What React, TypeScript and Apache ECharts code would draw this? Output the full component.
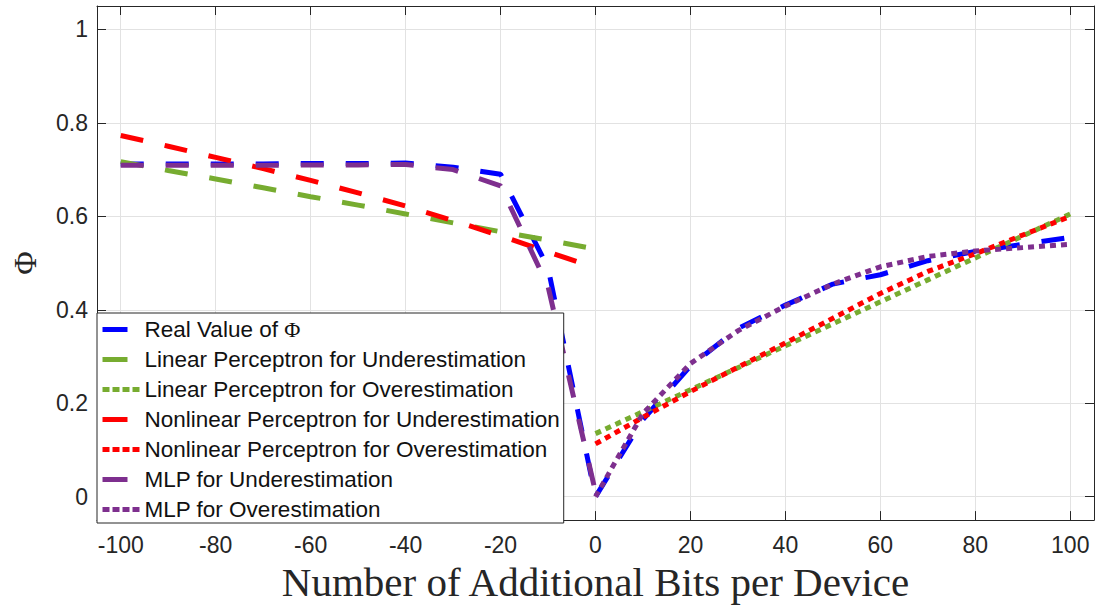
import React, { useEffect, useRef } from "react";
import * as echarts from "echarts";

// ---- data ----
const xLeft = [-100, -90, -80, -70, -60, -50, -40, -30, -20, -10, 0];
const xRight = [0, 10, 20, 30, 40, 50, 60, 70, 80, 90, 100];
const xAll = [-100, -90, -80, -70, -60, -50, -40, -30, -20, -10, 0, 10, 20, 30, 40, 50, 60, 70, 80, 90, 100];

const realValue = [0.712, 0.712, 0.712, 0.712, 0.713, 0.713, 0.714, 0.705, 0.69, 0.49, 0, 0.165, 0.28, 0.36, 0.41, 0.455, 0.475, 0.505, 0.525, 0.54, 0.555];
const linearUnder = [0.717, 0.698, 0.68, 0.661, 0.642, 0.624, 0.605, 0.586, 0.567, 0.549, 0.53];
const linearOver = [0.135, 0.182, 0.229, 0.276, 0.323, 0.37, 0.417, 0.464, 0.511, 0.558, 0.605];
const nonlinearUnder = [0.773, 0.75, 0.726, 0.702, 0.677, 0.65, 0.622, 0.591, 0.558, 0.524, 0.49];
const nonlinearOver = [0.113, 0.17, 0.225, 0.277, 0.329, 0.382, 0.435, 0.482, 0.52, 0.56, 0.6];
const mlpUnder = [0.709, 0.709, 0.709, 0.709, 0.71, 0.71, 0.711, 0.7, 0.665, 0.45, 0.01];
const mlpOver = [0, 0.178, 0.285, 0.355, 0.408, 0.455, 0.492, 0.514, 0.526, 0.533, 0.54];

const xTicks = [-100, -80, -60, -40, -20, 0, 20, 40, 60, 80, 100];
const yTicks = [0, 0.2, 0.4, 0.6, 0.8, 1];

const names = [
  "Real Value of Φ",
  "Linear Perceptron for Underestimation",
  "Linear Perceptron for Overestimation",
  "Nonlinear Perceptron for Underestimation",
  "Nonlinear Perceptron for Overestimation",
  "MLP for Underestimation",
  "MLP for Overestimation",
];

const BLUE = "#0000FF";
const GREEN = "#77AC30";
const RED = "#FF0000";
const PURPLE = "#7E2F8E";
const DASH = [23, 22];
const DOT = [6, 5];
const AXIS = "#262626";
const SANS = "'Liberation Sans', Arial, Helvetica, sans-serif";
const SERIF = "'Liberation Serif', 'Times New Roman', serif";

function pairs(xs: number[], ys: number[]) {
  return xs.map((x, i) => [x, ys[i]]);
}

function line(name: string, xs: number[], ys: number[], color: string, dash: number[], z: number) {
  return {
    name,
    type: "line",
    data: pairs(xs, ys),
    symbol: "none",
    showSymbol: false,
    z,
    lineStyle: { color, width: 5, type: dash, cap: "butt" },
    itemStyle: { color },
  };
}

export default function App() {
  const ref = useRef<HTMLDivElement>(null);
  useEffect(() => {
    if (!ref.current) return;
    const chart = echarts.init(ref.current, null, { renderer: "svg" });
    const axisCommon = {
      type: "value",
      axisLine: { show: true, onZero: false, lineStyle: { color: AXIS, width: 1 } },
    };
    const hiddenSymbol = { opacity: 0, color: "rgba(0,0,0,0)", borderWidth: 0 };
    chart.setOption({
      animation: false,
      backgroundColor: "#ffffff",
      grid: { left: 97, right: 3, top: 6, bottom: 85, containLabel: false },
      xAxis: [
        {
          ...axisCommon,
          min: -105,
          max: 105,
          position: "bottom",
          axisTick: { show: true, inside: true, length: 9, customValues: xTicks, lineStyle: { color: AXIS } },
          axisLabel: {
            customValues: xTicks,
            color: AXIS,
            fontSize: 23,
            fontFamily: SANS,
            margin: 13,
            formatter: (v: number) => String(v),
          },
          splitLine: { show: true, lineStyle: { color: "#e2e2e2", width: 1 } },
          name: "Number of Additional Bits per Device",
          nameLocation: "middle",
          nameGap: 35,
          nameTextStyle: { fontFamily: SERIF, fontSize: 41, color: AXIS },
        },
        {
          ...axisCommon,
          min: -105,
          max: 105,
          position: "top",
          axisTick: { show: true, inside: true, length: 9, customValues: xTicks, lineStyle: { color: AXIS } },
          axisLabel: { show: false },
          splitLine: { show: false },
        },
      ],
      yAxis: [
        {
          ...axisCommon,
          min: -0.05,
          max: 1.05,
          position: "left",
          axisTick: { show: true, inside: true, length: 9, customValues: yTicks, lineStyle: { color: AXIS } },
          axisLabel: {
            customValues: yTicks,
            color: AXIS,
            fontSize: 23,
            fontFamily: SANS,
            margin: 9,
            formatter: (v: number) => String(Number(v.toFixed(1))),
          },
          splitLine: { show: true, lineStyle: { color: "#e2e2e2", width: 1 } },
          name: "Φ",
          nameLocation: "middle",
          nameGap: 56,
          nameRotate: 90,
          nameTextStyle: { fontFamily: SERIF, fontSize: 32, color: AXIS },
        },
        {
          ...axisCommon,
          min: -0.05,
          max: 1.05,
          position: "right",
          axisTick: { show: true, inside: true, length: 9, customValues: yTicks, lineStyle: { color: AXIS } },
          axisLabel: { show: false },
          splitLine: { show: false },
        },
      ],
      legend: {
        orient: "vertical",
        left: 97,
        top: 313,
        itemWidth: 37,
        itemHeight: 14,
        itemGap: 7,
        padding: [5, 4, 2, 3],
        backgroundColor: "#ffffff",
        borderColor: AXIS,
        borderWidth: 1,
        borderRadius: 0,
        z: 10,
        selectedMode: false,
        itemStyle: hiddenSymbol,
        textStyle: {
          color: "#111111",
          fontSize: 22.5,
          fontFamily: SANS,
          lineHeight: 23,
          rich: { phi: { fontFamily: SERIF, fontSize: 22, color: "#111111", lineHeight: 23 } },
        },
        formatter: (name: string) => name.replace("Φ", "{phi|Φ}"),
        data: [
          { name: names[0], itemStyle: hiddenSymbol, lineStyle: { type: [25, 20], width: 5 } },
          { name: names[1], itemStyle: hiddenSymbol, lineStyle: { type: [25, 20], width: 5 } },
          { name: names[2], itemStyle: hiddenSymbol, lineStyle: { type: [7, 3], width: 5 } },
          { name: names[3], itemStyle: hiddenSymbol, lineStyle: { type: [25, 20], width: 5 } },
          { name: names[4], itemStyle: hiddenSymbol, lineStyle: { type: [7, 3], width: 5 } },
          { name: names[5], itemStyle: hiddenSymbol, lineStyle: { type: [25, 20], width: 5 } },
          { name: names[6], itemStyle: hiddenSymbol, lineStyle: { type: [7, 3], width: 5 } },
        ],
      },
      series: [
        line(names[0], xAll, realValue, BLUE, DASH, 2),
        line(names[1], xLeft, linearUnder, GREEN, DASH, 3),
        line(names[2], xRight, linearOver, GREEN, DOT, 4),
        line(names[3], xLeft, nonlinearUnder, RED, DASH, 5),
        line(names[4], xRight, nonlinearOver, RED, DOT, 6),
        line(names[5], xLeft, mlpUnder, PURPLE, DASH, 7),
        line(names[6], xRight, mlpOver, PURPLE, DOT, 8),
      ],
    });
    return () => chart.dispose();
  }, []);
  return (
    <div
      ref={ref}
      style={{ position: "fixed", left: 0, top: 0, width: 1097, height: 607, background: "#fff" }}
    />
  );
}
